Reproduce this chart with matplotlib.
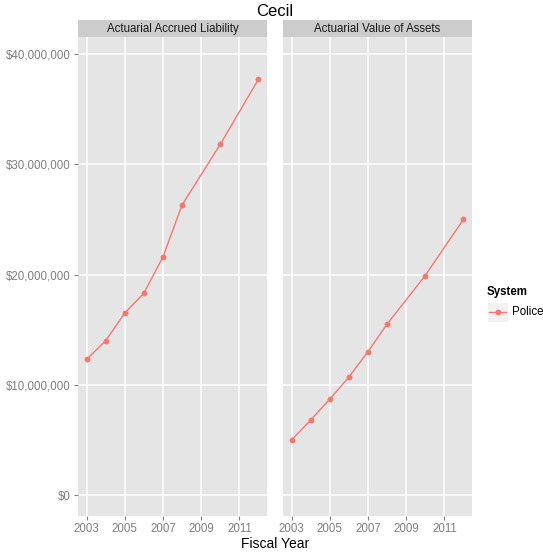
'''
Cecil pension system: liability vs assets
'''
import matplotlib
matplotlib.use('Agg')
import matplotlib.pyplot as plt
from matplotlib.lines import Line2D
from matplotlib.patches import Rectangle
from matplotlib.ticker import FuncFormatter

plt.rcParams['font.family'] = ['Liberation Sans', 'DejaVu Sans']

years = [2003, 2004, 2005, 2006, 2007, 2008, 2010, 2012]
liability = [12.3e6, 14.0e6, 16.5e6, 18.3e6, 21.6e6, 26.3e6, 31.8e6, 37.7e6]
assets = [5.0e6, 6.8e6, 8.7e6, 10.7e6, 13.0e6, 15.5e6, 19.9e6, 25.0e6]
panels = ['Actuarial Accrued Liability', 'Actuarial Value of Assets']
series = [liability, assets]
x_ticks = [2003, 2005, 2007, 2009, 2011]
y_ticks = [0, 10e6, 20e6, 30e6, 40e6]

line_col = '#F8766D'
tick_col = '#7F7F7F'

fig = plt.figure(figsize=(5.43, 5.55), dpi=100)
W, H = 543, 555

lefts = [78, 283]
pw = 189
ptop, pbot = 37, 516
strip_h = 17

for i, (name, vals) in enumerate(zip(panels, series)):
    ax = fig.add_axes([lefts[i] / W, 1 - pbot / H, pw / W, (pbot - ptop) / H])
    ax.set_facecolor('#E5E5E5')
    for s in ax.spines.values():
        s.set_visible(False)
    ax.grid(True, color='white', linewidth=1.1)
    ax.set_axisbelow(True)
    ax.plot(years, vals, '-', color=line_col, linewidth=1.0)
    ax.plot(years, vals, 'o', color=line_col, markersize=4.2, markeredgewidth=0)
    ax.set_xlim(2002.55, 2012.45)
    ax.set_ylim(-1.9e6, 41.54e6)
    ax.set_xticks(x_ticks)
    ax.set_yticks(y_ticks)
    ax.tick_params(colors=tick_col, labelcolor=tick_col, labelsize=8.3,
                   length=3, width=0.8, pad=2)
    ax.yaxis.set_major_formatter(FuncFormatter(lambda v, p: '${:,.0f}'.format(v)))
    if i == 1:
        ax.tick_params(axis='y', left=False, labelleft=False)
    # facet strip
    sax = fig.add_axes([lefts[i] / W, 1 - ptop / H, pw / W, strip_h / H])
    sax.set_facecolor('#CCCCCC')
    sax.set_xticks([])
    sax.set_yticks([])
    for s in sax.spines.values():
        s.set_visible(False)
    sax.text(0.5, 0.47, name, ha='center', va='center', fontsize=8.3,
             color='#1A1A1A', transform=sax.transAxes)

fig.text(275 / W, 1 - 11 / H, 'Cecil', ha='center', va='center', fontsize=12)
fig.text(275 / W, 1 - 544 / H, 'Fiscal Year', ha='center', va='center', fontsize=10)

# legend
fig.patches.append(Rectangle((487 / W, 1 - 322 / H), 21 / W, 20 / H,
                             transform=fig.transFigure, facecolor='#F2F2F2',
                             edgecolor='white', linewidth=0.8, zorder=0))
fig.text(487 / W, 1 - 292 / H, 'System', ha='left', va='center',
         fontsize=8.3, fontweight='bold')
fig.text(512 / W, 1 - 312 / H, 'Police', ha='left', va='center', fontsize=8.3)
fig.lines.append(Line2D([489 / W, 506 / W], [1 - 312 / H, 1 - 312 / H],
                        transform=fig.transFigure, color=line_col, linewidth=1.0,
                        marker='o', markevery=[0], markersize=0))
fig.lines.append(Line2D([497.5 / W], [1 - 312 / H], transform=fig.transFigure,
                        color=line_col, marker='o', markersize=4.2,
                        markeredgewidth=0, linestyle='none'))

fig.savefig('out.png', dpi=100)
